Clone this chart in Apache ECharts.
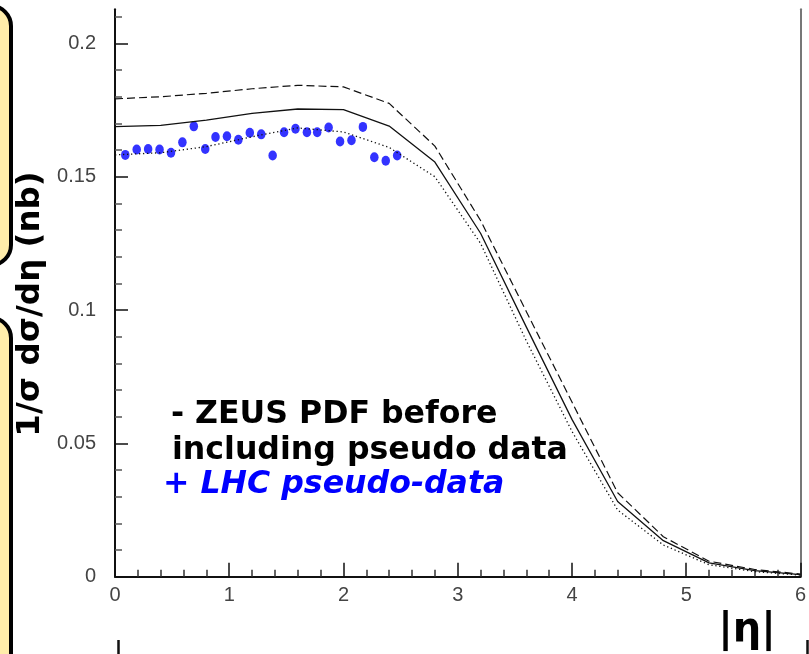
<!DOCTYPE html>
<html>
<head>
<meta charset="utf-8">
<script src="https://cdn.jsdelivr.net/npm/echarts@6/dist/echarts.min.js"></script>
<style>
html,body{margin:0;padding:0;background:#fff;}
#chart{width:809px;height:654px;}
</style>
</head>
<body>
<div id="chart"></div>
<script>
// ---- data ----
const etaCurve = [0.0, 0.4, 0.8, 1.2, 1.6, 2.0, 2.4, 2.8, 3.2, 3.6, 4.0, 4.4, 4.8, 5.2, 5.6, 6.0];
const zeusCentral = [0.1688, 0.1693, 0.1712, 0.1738, 0.1754, 0.1752, 0.1690, 0.1555, 0.1288, 0.0937, 0.0590, 0.0282, 0.0135, 0.0052, 0.0023, 0.0008];
const zeusUpper   = [0.1792, 0.1800, 0.1813, 0.1830, 0.1843, 0.1837, 0.1775, 0.1615, 0.1336, 0.0995, 0.0655, 0.0315, 0.0150, 0.0058, 0.0027, 0.0010];
const zeusLower   = [0.1582, 0.1590, 0.1613, 0.1650, 0.1683, 0.1668, 0.1610, 0.1500, 0.1250, 0.0885, 0.0545, 0.0250, 0.0119, 0.0045, 0.0019, 0.0006];
const etaPseudo  = [0.09, 0.19, 0.29, 0.39, 0.49, 0.59, 0.69, 0.79, 0.88, 0.98, 1.08, 1.18, 1.28, 1.38, 1.48, 1.58, 1.68, 1.77, 1.87, 1.97, 2.07, 2.17, 2.27, 2.37, 2.47];
const pseudoData = [0.1582, 0.1602, 0.1604, 0.1602, 0.1590, 0.1629, 0.1689, 0.1604, 0.1649, 0.1652, 0.1639, 0.1665, 0.1659, 0.1580, 0.1667, 0.1680, 0.1667, 0.1667, 0.1685, 0.1632, 0.1637, 0.1687, 0.1573, 0.1560, 0.1580];
const xTickLabels = ['0', '1', '2', '3', '4', '5', '6'];
const yMajorTicks = [0, 0.05, 0.1, 0.15, 0.2];
const yTickLabels = ['0', '0.05', '0.1', '0.15', '0.2'];
const yMinorTicks = [0.01, 0.02, 0.03, 0.04, 0.06, 0.07, 0.08, 0.09, 0.11, 0.12, 0.13, 0.14, 0.16, 0.17, 0.18, 0.19, 0.21];
const yTitle = '1/\u03c3 d\u03c3/d\u03b7 (nb)';
const xTitle = '|\u03b7|';
const noteLines = ['- ZEUS PDF before', 'including pseudo data'];
const noteBlue = '+ LHC pseudo-data';

const chart = echarts.init(document.getElementById('chart'), null, {renderer: 'canvas'});

const labelFont = {fontFamily: 'Liberation Sans', fontSize: 20, color: '#444'};
const pair = (xs, ys) => xs.map((x, i) => [x, ys[i]]);
const yMax = 0.2128;

const option = {
  animation: false,
  backgroundColor: '#fff',
  grid: [{left: 115, right: 3.5, top: 9.3, bottom: 77.3}],
  xAxis: [
    {
      type: 'value', min: 0, max: 6, interval: 1,
      axisLine: {show: true, onZero: false, lineStyle: {color: '#111', width: 2}},
      axisTick: {show: true, inside: true, length: 14, lineStyle: {color: '#111', width: 1.5}},
      minorTick: {show: true, splitNumber: 5, length: 7, lineStyle: {color: '#333', width: 1.5}},
      axisLabel: Object.assign({margin: 9, formatter: v => xTickLabels[Math.round(v)] ?? ''}, labelFont),
      splitLine: {show: false}
    }
  ],
  yAxis: [
    {
      type: 'value', min: 0, max: yMax, position: 'left',
      axisLine: {show: true, onZero: false, lineStyle: {color: '#111', width: 2}},
      axisTick: {show: true, inside: true, length: 13, customValues: yMajorTicks, lineStyle: {color: '#111', width: 1.5}},
      axisLabel: Object.assign({margin: 19, customValues: yMajorTicks, formatter: v => {
        const k = yMajorTicks.findIndex(t => Math.abs(t - v) < 1e-9);
        return k >= 0 ? yTickLabels[k] : '';
      }}, labelFont),
      splitLine: {show: false}
    },
    {
      type: 'value', min: 0, max: yMax, position: 'left',
      axisLine: {show: false},
      axisTick: {show: true, inside: true, length: 7, customValues: yMinorTicks, lineStyle: {color: '#555', width: 1.5}},
      axisLabel: {show: false}, splitLine: {show: false}
    },
    {
      type: 'value', min: 0, max: yMax, position: 'right',
      axisLine: {show: true, onZero: false, lineStyle: {color: '#777', width: 2}},
      axisTick: {show: false}, axisLabel: {show: false}, splitLine: {show: false}
    }
  ],
  series: [
    {
      type: 'line', data: pair(etaCurve, zeusUpper),
      showSymbol: false, symbol: 'none',
      lineStyle: {color: '#111', width: 1.2, type: [8, 4]}
    },
    {
      type: 'line', data: pair(etaCurve, zeusCentral),
      showSymbol: false, symbol: 'none',
      lineStyle: {color: '#111', width: 1.3, type: 'solid'}
    },
    {
      type: 'line', data: pair(etaCurve, zeusLower),
      showSymbol: false, symbol: 'none',
      lineStyle: {color: '#111', width: 1.3, type: [1.3, 2.7]}
    },
    {
      type: 'scatter', data: pair(etaPseudo, pseudoData),
      symbol: 'circle', symbolSize: [8.5, 10],
      itemStyle: {color: '#0000ff'}
    }
  ],
  graphic: [
    {type: 'rect', shape: {x: -40, y: 6, width: 51, height: 259, r: 20},
      style: {fill: '#FFEDAA', stroke: '#000', lineWidth: 4}},
    {type: 'rect', shape: {x: -40, y: 318, width: 51, height: 420, r: 20},
      style: {fill: '#FFEDAA', stroke: '#000', lineWidth: 4}},
    {type: 'text', x: 31, y: 304, rotation: Math.PI / 2,
      style: {text: yTitle, font: 'bold 32.5px "DejaVu Sans"', fill: '#000', align: 'center', verticalAlign: 'middle'}},
    {type: 'text', x: 171, y: 415,
      style: {text: noteLines[0], font: 'bold 31.6px "DejaVu Sans"', fill: '#000', align: 'left', verticalAlign: 'middle'}},
    {type: 'text', x: 172, y: 451,
      style: {text: noteLines[1], font: 'bold 31.6px "DejaVu Sans"', fill: '#000', align: 'left', verticalAlign: 'middle'}},
    {type: 'text', x: 163, y: 485,
      style: {text: noteBlue, font: 'italic bold 31.6px "DejaVu Sans"', fill: '#0000ff', align: 'left', verticalAlign: 'middle'}},
    {type: 'text', x: 747, y: 631,
      style: {text: xTitle, font: 'bold 40px "DejaVu Sans"', fill: '#000', align: 'center', verticalAlign: 'middle'}},
    {type: 'line', shape: {x1: 118.5, y1: 640, x2: 118.5, y2: 660}, style: {stroke: '#111', lineWidth: 2.5}},
    {type: 'line', shape: {x1: 807.5, y1: 640, x2: 807.5, y2: 660}, style: {stroke: '#111', lineWidth: 2.5}}
  ]
};
chart.setOption(option);
</script>
</body>
</html>
